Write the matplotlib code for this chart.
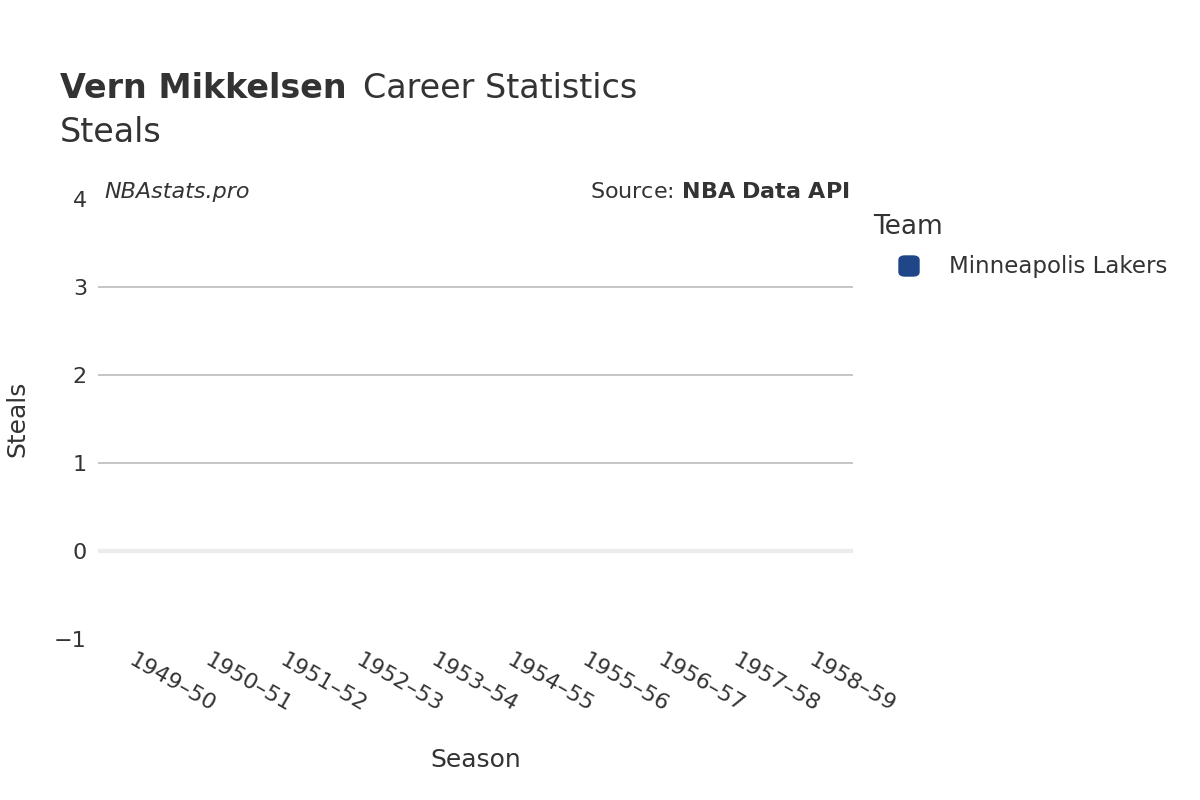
import matplotlib
matplotlib.use("Agg")
import matplotlib.pyplot as plt
import numpy as np

seasons = ["1949-50","1950-51","1951-52","1952-53","1953-54","1954-55","1955-56","1956-57","1957-58","1958-59"]
steals = [np.nan]*10
team = "Minneapolis Lakers"
yticks = [-1, 0, 1, 2, 3, 4]

fig = plt.figure(figsize=(12, 8), dpi=100)
ax = fig.add_axes([98/1200, 1-639/800, 755/1200, 440/800])
x = np.arange(len(seasons))
ax.plot(x, steals, color="#1f4788")
ax.set_xlim(-0.5, len(seasons)-0.5)
ax.set_ylim(-1, 4)
for s in ax.spines.values():
    s.set_visible(False)
for y in [1, 2, 3]:
    ax.axhline(y, color="#c0c0c0", lw=1.3, zorder=0)
ax.axhline(0, color="#ececec", lw=3, zorder=0)
ax.set_yticks(yticks)
ax.set_yticklabels(["\u22121", "0", "1", "2", "3", "4"], fontsize=16, color="#333333")
ax.set_xticks(x)
ax.set_xticklabels([s.replace("-", "\u2013") for s in seasons], rotation=-30, ha="left", va="top",
                   rotation_mode="anchor", fontsize=16, color="#333333")
ax.tick_params(length=0, pad=8)
fig.text(476/1200, 1-760/800, "Season", fontsize=18, color="#333333", va="center", ha="center")
fig.text(17/1200, 1-419/800, "Steals", fontsize=18, color="#333333", va="center", ha="center", rotation=90)

fig.text(60/1200, 1-89/800, "Vern Mikkelsen", fontsize=24, weight="bold", color="#333333", va="center")
fig.text(363/1200, 1-89/800, "Career Statistics", fontsize=24, color="#333333", va="center")
fig.text(60/1200, 1-132/800, "Steals", fontsize=24, color="#333333", va="center")
fig.text(104/1200, 1-192/800, "NBAstats.pro", fontsize=16, style="italic", color="#333333", va="center")
fig.text(850/1200, 1-192/800, r"Source: $\bf{NBA\ Data\ API}$", fontsize=16, color="#333333", va="center", ha="right")
fig.text(873/1200, 1-227/800, "Team", fontsize=19, color="#333333", va="center")
fig.patches.append(matplotlib.patches.FancyBboxPatch((899/1200, 1-276/800), 20/1200, 20/800,
    boxstyle="round,pad=0,rounding_size=0.005", transform=fig.transFigure, color="#1f4788"))
fig.text(949/1200, 1-267/800, team, fontsize=16.5, color="#333333", va="center")
fig.savefig("out.png", dpi=100)
